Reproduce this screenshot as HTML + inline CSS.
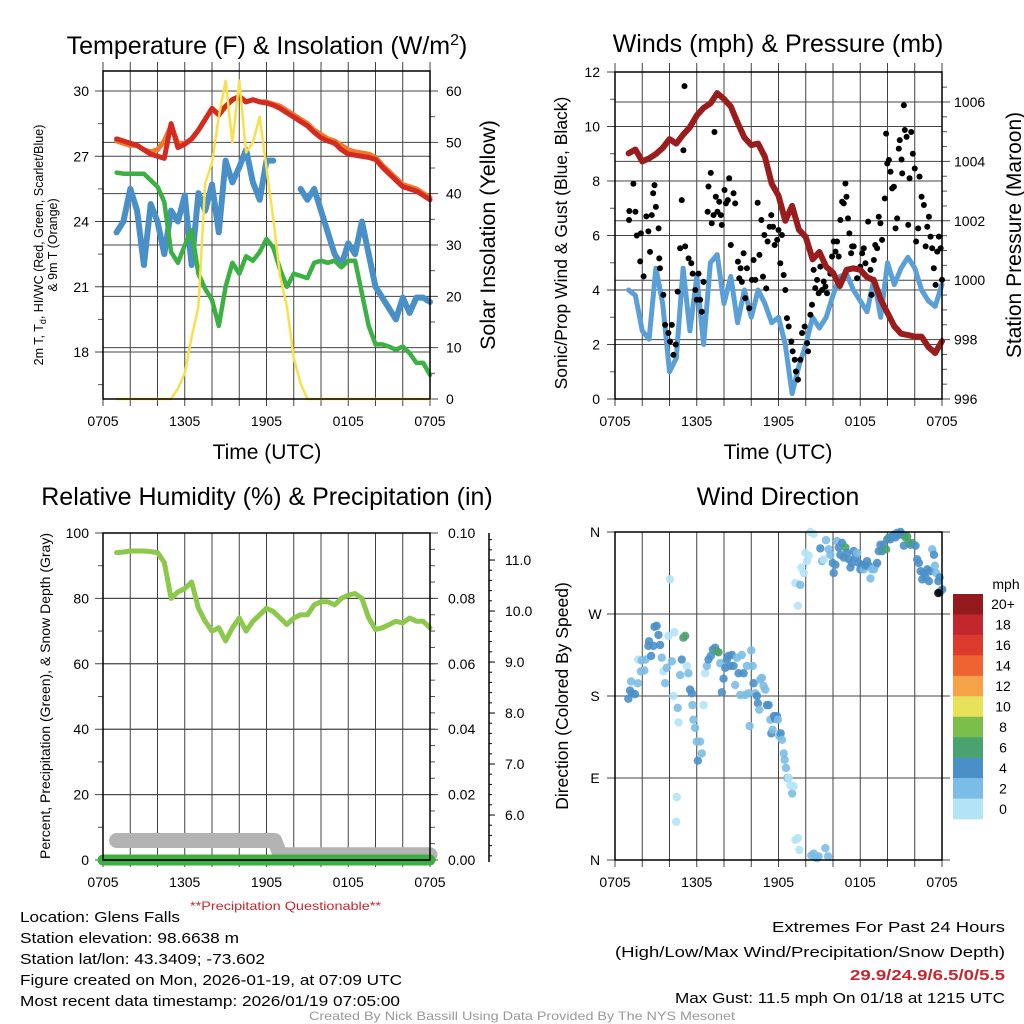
<!DOCTYPE html>
<html><head><meta charset="utf-8"><style>
html,body{margin:0;padding:0;background:#fff;}
svg{display:block;font-family:"Liberation Sans",sans-serif;}
</style></head><body>
<svg id="chart" width="1024" height="1024" viewBox="0 0 1024 1024" xmlns="http://www.w3.org/2000/svg">
<g id="grids"></g>
<g id="marks"></g>
<g id="frames"></g>
<g id="labels" fill="#000"></g>
</svg>
<script>
// ---------- DATA ----------
const times = [1,1.5,2,2.5,3,3.5,4,4.5,5,5.5,6,6.5,7,7.5,8,8.5,9,9.5,10,10.5,11,11.5,12,12.5,13,13.5,14,14.5,15,15.5,16,16.5,17,17.5,18,18.5,19,19.5,20,20.5,21,21.5,22,22.5,23,23.5,24];
const timeTicks = ['0705','1305','1905','0105','0705'];
const tempRed = [27.8,27.7,27.6,27.5,27.3,27.1,27.0,26.9,28.5,27.4,27.55,27.8,28.2,28.7,29.2,28.9,29.3,29.6,29.75,29.5,29.6,29.5,29.45,29.35,29.2,29.0,28.8,28.6,28.4,28.1,27.85,27.7,27.6,27.3,27.1,27.05,27.0,26.95,26.85,26.5,26.2,25.9,25.6,25.5,25.4,25.2,25.0];
const temp9m = [27.7,27.6,27.5,27.5,27.3,27.2,27.3,27.7,28.4,27.6,27.6,27.8,28.2,28.7,29.2,28.9,29.3,29.6,29.75,29.5,29.6,29.5,29.5,29.4,29.3,29.1,28.9,28.7,28.5,28.2,28.0,27.8,27.7,27.5,27.3,27.2,27.15,27.1,26.95,26.6,26.3,26.0,25.7,25.6,25.5,25.3,25.1];
const dewGreen = [26.25,26.2,26.2,26.2,26.2,25.9,25.6,24.9,22.6,22.1,22.9,23.6,21.6,20.9,20.4,19.2,21.0,22.1,21.6,22.4,22.2,22.6,23.2,22.8,21.8,21.0,21.6,21.5,21.4,22.1,22.2,22.1,22.2,21.9,22.2,22.2,20.7,19.2,18.35,18.35,18.25,18.1,18.25,17.95,17.5,17.5,16.95];
const hiwcBlue = [23.5,24.0,25.5,24.5,22.0,24.8,24.0,22.5,24.5,24.0,25.2,22.0,25.3,24.5,25.7,23.5,26.8,25.8,26.5,27.3,25.8,25.0,26.8,26.8,null,null,null,25.5,25.0,25.5,24.5,23.5,22.5,22.0,23.0,22.5,24.0,22.5,21.0,20.5,20.0,19.5,20.5,19.8,20.5,20.5,20.3];
const solar = [0,0,0,0,0,0,0,0,0,2,5,12,18,42,46,55,62,50,62,48,50,55,45,35,24,18,8,3,0,0,0,0,0,0,0,0,0,0,0,0,0,0,0,0,0,0,0];
const tempTicks = [18,21,24,27,30];
const solarTicks = [0,10,20,30,40,50,60];

const pressure = [1004.27,1004.4,1004.0,1004.1,1004.25,1004.45,1004.75,1004.6,1004.9,1005.15,1005.55,1005.8,1005.95,1006.3,1006.1,1005.85,1005.3,1004.8,1004.55,1004.6,1004.15,1003.25,1002.85,1002.0,1002.5,1001.7,1001.45,1000.7,1000.95,1000.45,1000.25,999.8,1000.35,1000.4,1000.35,1000.1,1000.0,999.35,998.9,998.45,998.2,998.15,998.1,998.1,997.75,997.55,997.95];
const windSpeed = [4.0,3.8,2.5,2.2,4.8,3.5,1.0,1.5,4.8,2.5,4.5,2.0,5.0,5.3,3.5,4.5,2.8,4.0,3.0,4.0,3.5,2.8,3.0,2.0,0.2,1.2,2.0,3.0,2.6,3.0,3.8,4.5,4.6,4.0,3.6,3.2,4.4,3.0,5.0,4.2,4.8,5.2,4.8,4.0,3.6,3.4,4.2];
const gustTimes = [1.03,1.05,1.35,1.5,1.6,1.85,1.9,2.1,2.3,2.45,2.57,2.7,2.8,2.9,3.0,3.2,3.25,3.3,3.55,3.68,3.92,4.04,4.17,4.29,4.46,4.6,4.78,4.9,5.02,5.1,5.15,5.4,5.6,5.7,5.9,6.0,6.13,6.25,6.37,6.5,6.8,6.86,7.03,7.1,7.23,7.3,7.4,7.52,7.65,7.77,7.84,8.04,8.14,8.28,8.38,8.5,8.7,8.82,9.02,9.12,9.22,9.31,9.44,9.56,9.68,9.85,10.05,10.17,10.3,10.47,10.6,10.74,10.86,10.96,11.1,11.2,11.35,11.47,11.6,11.72,11.9,12.0,12.13,12.25,12.38,12.5,12.62,12.75,12.94,13.04,13.19,13.28,13.43,13.6,13.73,13.92,14.1,14.17,14.34,14.46,14.58,14.7,14.83,14.95,15.07,15.2,15.32,15.44,15.56,15.8,15.93,16.05,16.18,16.3,16.42,16.54,16.67,16.79,16.91,16.99,17.1,17.2,17.33,17.4,17.52,17.77,18.0,18.14,18.26,18.38,18.58,18.75,18.82,19.0,19.1,19.24,19.36,19.48,19.6,19.8,19.9,19.98,20.1,20.22,20.34,20.47,20.59,20.71,20.83,20.9,21.03,21.08,21.2,21.27,21.4,21.52,21.62,21.74,21.86,22.0,22.1,22.25,22.35,22.5,22.67,22.8,22.92,23.04,23.16,23.28,23.4,23.53,23.65,23.77,23.9,24.0];
const gustSpeeds = [6.57,6.9,7.9,6.87,6.0,5.05,6.08,4.5,6.7,6.15,5.4,6.75,7.55,7.85,7.05,6.26,5.16,4.8,3.82,2.72,2.42,2.11,2.72,1.62,2.0,3.94,5.53,7.3,9.13,11.48,5.6,5.16,4.98,4.6,4.0,3.64,4.6,3.64,3.2,4.3,6.87,7.8,8.3,6.45,6.75,9.8,7.42,6.87,7.24,6.75,6.39,7.67,7.18,7.3,8.1,5.65,7.55,7.18,5.04,4.43,4.8,4.3,5.35,3.7,4.8,3.33,4.37,5.1,4.37,7.2,5.29,6.57,4.49,6.02,4.06,5.78,6.32,6.75,6.32,5.65,5.84,6.2,4.98,6.02,4.55,4.0,2.97,2.66,2.11,1.75,1.44,1.01,0.71,1.44,2.42,2.66,2.05,1.75,3.09,3.46,4.74,4.07,4.37,3.88,4.86,4.0,4.31,4.13,3.88,4.6,5.23,5.78,5.41,5.78,5.23,6.57,7.24,7.18,7.91,7.42,6.63,6.08,5.35,5.6,5.6,4.43,4.86,5.35,5.53,4.98,6.51,4.74,3.82,5.1,5.65,5.53,6.69,6.45,5.84,7.36,9.74,8.64,8.77,8.34,7.73,7.79,6.26,6.63,9.19,9.5,8.79,8.28,10.78,9.87,9.62,6.39,8.1,9.8,9.0,8.46,5.78,6.26,8.16,7.42,7.12,5.6,6.32,6.69,5.96,5.53,4.8,4.19,5.41,5.96,5.53,4.37];
const windTicks = [0,2,4,6,8,10,12];
const pressTicks = [996,998,1000,1002,1004,1006];

const rh = [94,94.2,94.5,94.5,94.5,94.3,94,91,80,82,83,85,77,73,70,71,67,71,74,70,73,75,77,76,74,72,74,75,75,78,79,79,78,80,81,81.5,80,74,70.5,71,72,73,72.5,74,73,73,71];
const snowTimes = [1,12.6,13.0,24];
const snowDepth = [5.5,5.5,5.22,5.22];
const precipTimes = [0,24];
const precip = [0,0];
const rhTicks = [0,20,40,60,80,100];
const precipTicks = ['0.00','0.02','0.04','0.06','0.08','0.10'];
const snowTicks = ['6.0','7.0','8.0','9.0','10.0','11.0'];

const dirTimes = [0.98,1.1,1.18,1.27,1.47,1.67,1.7,1.9,1.96,2.15,2.25,2.45,2.5,2.65,2.82,2.9,3.06,3.19,3.31,3.43,3.55,3.68,3.8,3.92,4.04,4.17,4.29,4.36,4.49,4.53,4.6,4.66,4.78,4.9,5.02,5.15,5.27,5.39,5.51,5.64,5.69,5.76,5.88,6.0,6.08,6.25,6.37,6.5,6.62,6.74,6.86,7.03,7.18,7.35,7.47,7.6,7.72,7.84,7.97,8.09,8.21,8.33,8.46,8.58,8.7,8.82,8.95,9.07,9.19,9.31,9.44,9.56,9.68,9.8,9.88,10.0,10.1,10.17,10.29,10.42,10.49,10.59,10.66,10.78,10.9,11.03,11.15,11.27,11.4,11.47,11.57,11.67,11.76,11.89,11.96,12.06,12.16,12.25,12.38,12.45,12.55,12.65,12.75,12.87,13.0,13.11,13.24,13.43,13.53,13.24,13.43,13.6,13.68,13.85,13.97,14.09,14.22,14.34,14.58,14.41,14.58,14.7,14.83,14.95,15.44,15.64,15.07,15.2,15.32,15.49,15.69,15.81,15.98,16.05,16.18,16.3,16.42,16.54,16.67,16.79,16.91,17.03,17.16,17.28,17.4,17.52,17.65,17.77,17.89,18.01,18.14,18.26,18.38,18.5,18.63,18.75,18.87,19.0,19.12,19.24,19.36,19.48,19.6,19.73,19.9,19.98,20.1,20.22,20.34,20.47,20.59,20.71,20.83,20.96,21.08,21.2,21.32,21.45,21.57,21.69,21.81,22.06,22.18,22.3,22.43,22.55,22.67,22.79,22.92,23.04,23.16,23.28,23.41,23.48,23.58,23.73,23.82,23.9,24.02,23.73];
const dirDegrees = [177,186,196,183,182,194,220,207,219,208,220,235,240,224,235,256,257,247,236,222,207,194,211,246,308,218,180,250,42,69,167,151,203,220,244,246,213,205,187,183,170,154,145,130,109,130,117,170,205,213,220,224,231,233,229,228,216,184,199,211,220,224,213,225,213,192,222,205,181,225,205,181,213,183,147,230,213,194,183,180,172,165,198,200,191,187,170,170,154,139,143,158,155,158,154,136,139,132,117,110,101,90,90,82,73,81,22,24,11,304,279,302,321,315,337,328,334,360,358,5,7,3,2,4,13,4,342,328,330,351,341,335,326,315,324,350,343,335,348,332,343,337,330,321,326,339,332,337,326,319,324,319,323,328,323,309,319,319,323,326,339,346,339,346,341,352,354,352,355,357,354,359,357,360,357,345,354,355,348,346,348,345,330,326,317,308,315,310,319,306,317,341,335,323,315,306,310,295,297,293];
const dirSpeeds = [5,5,3,5,5,3,1,3,3,3,3,5,5,5,5,5,5,5,5,3,1,3,3,1,1,3,1,1,1,1,3,1,3,5,7,7,1,3,5,5,3,3,3,3,5,3,3,1,1,3,5,5,5,5,7,7,3,5,5,5,5,5,5,5,5,3,3,5,3,3,5,3,3,3,3,3,3,5,3,5,5,3,3,3,3,3,5,5,3,5,3,5,5,5,3,3,5,3,3,3,3,3,1,1,3,1,1,1,1,1,1,3,1,1,1,1,1,1,1,3,3,3,3,3,3,3,5,3,1,3,3,3,5,5,5,3,5,5,5,5,7,5,5,5,5,5,5,3,5,5,5,3,5,5,5,3,3,3,3,5,5,5,5,5,7,5,7,5,5,5,5,5,5,5,5,5,7,7,7,5,7,5,5,5,5,5,5,5,5,5,5,3,5,3,3,5,5,5,5];
const dirTicks = ['N','E','S','W','N'];
const speedBins = ['0','2','4','6','8','10','12','14','16','18','20+'];
const speedColors = ['#b3e3f7','#7bbde6','#4a90c8','#4aa36e','#7bbf4a','#e8e15a','#f6a347','#ef6331','#dc3a2c','#c1272d','#931b1e'];

// ---------- HELPERS ----------
const NS='http://www.w3.org/2000/svg';
function mk(tag, parent, attrs){const e=document.createElementNS(NS,tag);for(const k in attrs)e.setAttribute(k,attrs[k]);document.getElementById(parent).appendChild(e);return e;}
function lin(d0,d1,r0,r1){return v=>r0+(v-d0)*(r1-r0)/(d1-d0);}
const P = {
  tl:{x0:103,x1:430,y0:71,y1:399},
  tr:{x0:615,x1:942,y0:72,y1:399},
  bl:{x0:103,x1:430,y0:533,y1:860},
  br:{x0:615,x1:942,y0:532,y1:860}
};
function txt(s,x,y,opt){const e=mk('text','labels',Object.assign({x:x,y:y,'font-size':14},opt||{}));e.textContent=s;return e;}
function path(xs,ys,fx,fy,parent,attrs){let d='',pen=false;for(let i=0;i<xs.length;i++){if(ys[i]===null){pen=false;continue;}d+=(pen?'L':'M')+fx(xs[i]).toFixed(1)+' '+fy(ys[i]).toFixed(1);pen=true;}return mk('path',parent,Object.assign({d:d,fill:'none','stroke-linejoin':'round','stroke-linecap':'round'},attrs));}

function frame(p,key){
  const fx=lin(0,24,p.x0,p.x1);
  for(let h=0;h<=24;h+=2){const x=fx(h);
    const g=mk('line','grids',{x1:x,x2:x,y1:p.y0-(key==='tl'||key==='tr'?9:0),y2:p.y1+7,stroke:'#444','stroke-width':1});
    }
  const r=mk('rect','frames',{x:p.x0,y:p.y0,width:p.x1-p.x0,height:p.y1-p.y0,fill:'none',stroke:'#000','stroke-width':1.5});
  
  for(let i=0;i<timeTicks.length;i++){const t=txt(timeTicks[i],fx(i*6),p.y1+27,{'text-anchor':'middle','font-size':14});
    }
  return fx;
}
function hgrid(p,y,leftLen,rightLen){const g=mk('line','grids',{x1:p.x0-leftLen,x2:p.x1+rightLen,y1:y,y2:y,stroke:'#444','stroke-width':1});
  }
function minor(x,y,len){mk('line','grids',{x1:x,x2:x+len,y1:y,y2:y,stroke:'#555','stroke-width':1});}

// ---------- TOP LEFT ----------
(function(){
  const p=P.tl, fx=frame(p,'tl');
  const fy=lin(15.84,30.92,p.y1,p.y0), fs=lin(0,63.9,p.y1,p.y0);
  for(let v=16.5;v<=30.5;v+=1.5){if(v%3!==0)minor(p.x0-5,fy(v),5);}
  for(let v=5;v<=63;v+=5){if(v%10!==0)minor(p.x1,fs(v),5);}
  tempTicks.forEach(v=>{hgrid(p,fy(v),8,0);const t=txt(String(v),p.x0-14,fy(v)+5,{'text-anchor':'end'});});
  solarTicks.forEach(v=>{hgrid(p,fs(v),0,8);const t=txt(String(v),p.x1+16,fs(v)+5,{});});
  let s=path(times,temp9m,fx,fy,'marks',{stroke:'#f07a2a','stroke-width':5});
  s=path(times,tempRed,fx,fy,'marks',{stroke:'#d42a20','stroke-width':5});
  s=path(times,hiwcBlue,fx,fy,'marks',{stroke:'#4a90c8','stroke-width':6});
  s=path(times,dewGreen,fx,fy,'marks',{stroke:'#3cb043','stroke-width':4.5});
  s=path(times,solar,fx,fs,'marks',{stroke:'#f7e04a','stroke-width':2.5});
  let t=mk('text','labels',{x:267,y:54,'font-size':25,'text-anchor':'middle'});t.innerHTML='Temperature (F) &amp; Insolation (W/m<tspan dy="-9" font-size="16">2</tspan><tspan dy="9">)</tspan>';
  
  t=txt('Time (UTC)',267,459,{'text-anchor':'middle','font-size':21});
  t=mk('text','labels',{x:0,y:0,'font-size':12.5,'text-anchor':'middle',transform:'translate(43,245) rotate(-90)'});t.innerHTML='2m T, T<tspan dy="3" font-size="9">d</tspan><tspan dy="-3">, HI/WC (Red, Green, Scarlet/Blue)</tspan>';
  
  t=txt('& 9m T (Orange)',0,0,{'font-size':12.5,'text-anchor':'middle',transform:'translate(57,245) rotate(-90)'});
  t=txt('Solar Insolation (Yellow)',0,0,{'font-size':21.5,'text-anchor':'middle',transform:'translate(495,235) rotate(-90)'});
})();

// ---------- TOP RIGHT ----------
(function(){
  const p=P.tr, fx=frame(p,'tr');
  const fy=lin(0,12,p.y1,p.y0), fp=lin(996,1007.01,p.y1,p.y0);
  for(let v=1;v<12;v+=2)minor(p.x0-5,fy(v),5);
  for(let v=996.5;v<1007;v+=0.5){if(v%2!==0)minor(p.x1,fp(v),5);}
  windTicks.forEach(v=>{hgrid(p,fy(v),8,0);const t=txt(String(v),p.x0-15,fy(v)+5,{'text-anchor':'end'});});
  pressTicks.forEach(v=>{hgrid(p,fp(v),0,8);const t=txt(String(v),p.x1+12,fp(v)+5,{});});
  let s=path(times,windSpeed,fx,fy,'marks',{stroke:'#5a9fd6','stroke-width':5});
  for(let i=0;i<gustTimes.length;i++){const c=mk('circle','marks',{cx:fx(gustTimes[i]),cy:fy(gustSpeeds[i]),r:3,fill:'#000'});
    }
  s=path(times,pressure,fx,fp,'marks',{stroke:'#9b1c1c','stroke-width':6});
  let t=txt('Winds (mph) & Pressure (mb)',778,52,{'text-anchor':'middle','font-size':25});
  t=txt('Time (UTC)',778,459,{'text-anchor':'middle','font-size':21});
  t=txt('Sonic/Prop Wind & Gust (Blue, Black)',0,0,{'font-size':17.5,'text-anchor':'middle',transform:'translate(567,243) rotate(-90)'});
  t=txt('Station Pressure (Maroon)',0,0,{'font-size':21,'text-anchor':'middle',transform:'translate(1021,235) rotate(-90)'});
})();

// ---------- BOTTOM LEFT ----------
(function(){
  const p=P.bl, fx=frame(p,'bl');
  const fy=lin(0,100,p.y1,p.y0), fpr=lin(0,0.10,p.y1,p.y0), fsn=lin(5.118,11.53,p.y1,p.y0);
  for(let v=10;v<100;v+=20)minor(p.x0-5,fy(v),5);
  for(let v=0.005;v<0.1;v+=0.005){minor(p.x1,fpr(v),5);}
  rhTicks.forEach(v=>{hgrid(p,fy(v),8,0);const t=txt(String(v),p.x0-14,fy(v)+5,{'text-anchor':'end'});});
  precipTicks.forEach((v,i)=>{hgrid(p,fpr(i*0.02),0,8);const t=txt(v,p.x1+18,fpr(i*0.02)+5,{});});
  const ax=mk('line','grids',{x1:489,x2:489,y1:p.y0,y2:p.y1+2,stroke:'#000','stroke-width':1.5});
  for(let v=5.2;v<11.5;v+=0.2){mk('line','grids',{x1:489,x2:492,y1:fsn(v),y2:fsn(v),stroke:'#000','stroke-width':1});}
  snowTicks.forEach(v=>{const y=fsn(parseFloat(v));mk('line','grids',{x1:489,x2:495,y1:y,y2:y,stroke:'#000','stroke-width':1});
    const t=txt(v,505,y+5,{});});
  let s=path(snowTimes,snowDepth,fx,fsn,'marks',{stroke:'#b3b3b3','stroke-width':15});
  s=path(precipTimes,precip,fx,fpr,'marks',{stroke:'#3cb043','stroke-width':11});
  mk('line','marks',{x1:p.x0,x2:p.x1,y1:p.y1,y2:p.y1,stroke:'#000','stroke-width':1.5});
  s=path(times,rh,fx,fy,'marks',{stroke:'#8cc84b','stroke-width':5});
  let t=txt('Relative Humidity (%) & Precipitation (in)',267,505,{'text-anchor':'middle','font-size':25});
  t=txt('Percent, Precipitation (Green), & Snow Depth (Gray)',0,0,{'font-size':14,'text-anchor':'middle',transform:'translate(50,696) rotate(-90)'});
})();

// ---------- BOTTOM RIGHT ----------
(function(){
  const p=P.br, fx=frame(p,'br');
  const fy=lin(0,360,p.y1,p.y0);
  dirTicks.forEach((v,i)=>{const y=fy(i*90);hgrid(p,y,8,8);const t=txt(v,p.x0-20,y+5,{'text-anchor':'middle','font-size':14});});
  for(let i=0;i<dirTimes.length;i++){const b=Math.min(10,Math.floor(dirSpeeds[i]/2));
    const c=mk('circle','marks',{cx:fx(dirTimes[i]),cy:fy(dirDegrees[i]),r:4.2,fill:speedColors[b],'fill-opacity':0.9});
    }
  const lx=953,lw=30,ly0=594,ly1=819,bh=(ly1-ly0)/speedBins.length;
  for(let i=0;i<speedBins.length;i++){const j=speedBins.length-1-i;
    const r=mk('rect','marks',{x:lx,y:ly0+i*bh,width:lw,height:bh+0.3,fill:speedColors[j]});
    const t=txt(speedBins[j],1003,ly0+i*bh+bh/2+5,{'text-anchor':'middle','font-size':14});}
  let t=txt('mph',1006,589,{'text-anchor':'middle','font-size':14});
  t=txt('Wind Direction',778,505,{'text-anchor':'middle','font-size':25});
  t=txt('Direction (Colored By Speed)',0,0,{'font-size':17.5,'text-anchor':'middle',transform:'translate(568,696) rotate(-90)'});
})();

// ---------- FOOTER ----------
(function(){
  const N={'font-family':'"Liberation Sans Narrow","Liberation Sans",sans-serif','lengthAdjust':'spacingAndGlyphs'};
  const left=[['Location: Glens Falls',922,160],['Station elevation: 98.6638 m',943,219],['Station lat/lon: 43.3409; -73.602',964,245],['Figure created on Mon, 2026-01-19, at 07:09 UTC',985,382],['Most recent data timestamp: 2026/01/19 07:05:00',1006,380]];
  left.forEach(l=>{const t=txt(l[0],20,l[1],Object.assign({'font-size':15,textLength:l[2]},N));});
  let t=txt('**Precipitation Questionable**',190,910,Object.assign({'font-size':12,fill:'#c8262c',textLength:191},N));
  const right=[['Extremes For Past 24 Hours',932,233,false],['(High/Low/Max Wind/Precipitation/Snow Depth)',957,390,false],['29.9/24.9/6.5/0/5.5',980,155,true],['Max Gust: 11.5 mph On 01/18 at 1215 UTC',1003,330,false]];
  right.forEach(l=>{const o=Object.assign({'font-size':15,textLength:l[2],'text-anchor':'end'},N);if(l[3]){o.fill='#c8262c';o['font-weight']='bold';}
    const t=txt(l[0],1005,l[1],o);});
  t=txt('Created By Nick Bassill Using Data Provided By The NYS Mesonet',309,1020,Object.assign({'font-size':12,fill:'#999',textLength:426},N));
})();
</script>
</body></html>
